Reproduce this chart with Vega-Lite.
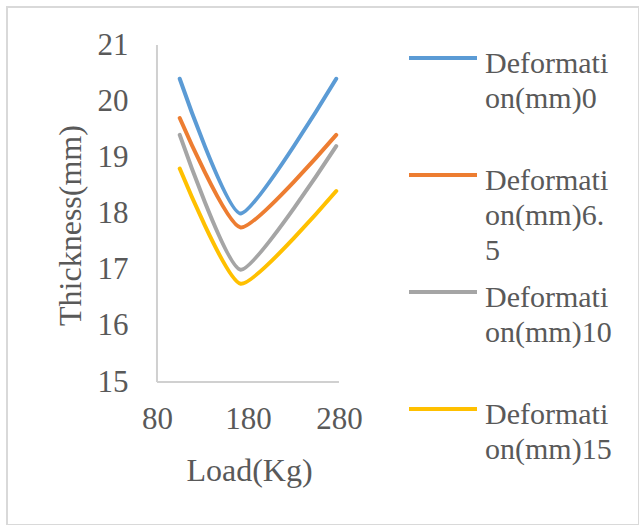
{
  "$schema": "https://vega.github.io/schema/vega-lite/v6.json",
  "autosize": {"type": "none"},
  "padding": {"left": 7, "top": 7, "right": 0, "bottom": 0},
  "width": 632,
  "height": 518,
  "background": "white",
  "config": {
    "view": {"stroke": "#d9d9d9", "strokeWidth": 2},
    "font": "Liberation Serif"
  },
  "layer": [
    {
      "data": {
        "values": [
          {"series": "Deformation(mm)0", "load": 105, "thickness": 20.4},
          {"series": "Deformation(mm)0", "load": 172, "thickness": 18.0},
          {"series": "Deformation(mm)0", "load": 277, "thickness": 20.4},
          {"series": "Deformation(mm)6.5", "load": 105, "thickness": 19.7},
          {"series": "Deformation(mm)6.5", "load": 172, "thickness": 17.75},
          {"series": "Deformation(mm)6.5", "load": 277, "thickness": 19.4},
          {"series": "Deformation(mm)10", "load": 105, "thickness": 19.4},
          {"series": "Deformation(mm)10", "load": 172, "thickness": 17.0},
          {"series": "Deformation(mm)10", "load": 277, "thickness": 19.2},
          {"series": "Deformation(mm)15", "load": 105, "thickness": 18.8},
          {"series": "Deformation(mm)15", "load": 172, "thickness": 16.75},
          {"series": "Deformation(mm)15", "load": 277, "thickness": 18.4}
        ]
      },
      "mark": {"type": "line", "interpolate": "cardinal", "tension": 0.45, "strokeWidth": 4, "strokeCap": "round", "strokeJoin": "round"},
      "encoding": {
        "x": {
          "field": "load", "type": "quantitative",
          "scale": {"domain": [-84.8, 609.7], "nice": false, "zero": false},
          "axis": {
            "values": [80, 180, 280], "domain": false, "ticks": false, "grid": false,
            "offset": -143, "labelPadding": 22, "labelFontSize": 31, "labelColor": "#595959",
            "labelFont": "Liberation Serif", "labelFlush": false, "labelOverlap": false,
            "title": "Load(Kg)", "titleFont": "Liberation Serif", "titleFontSize": 32, "titleFontWeight": "normal",
            "titleColor": "#595959", "titleX": 242, "titleY": 98, "titleBaseline": "alphabetic", "titleAlign": "center"
          }
        },
        "y": {
          "field": "thickness", "type": "quantitative",
          "scale": {"domain": [12.455, 21.677], "nice": false, "zero": false},
          "axis": {
            "values": [15, 16, 17, 18, 19, 20, 21], "domain": false, "ticks": false, "grid": false,
            "offset": -149, "labelPadding": 28, "labelFontSize": 31, "labelColor": "#595959",
            "labelFont": "Liberation Serif", "labelFlush": false, "labelOverlap": false,
            "title": "Thickness(mm)", "titleFont": "Liberation Serif", "titleFontSize": 32, "titleFontWeight": "normal",
            "titleColor": "#595959", "titleAngle": 270, "titleX": -76, "titleY": 218, "titleBaseline": "alphabetic", "titleAlign": "center"
          }
        },
        "color": {
          "field": "series", "type": "nominal",
          "scale": {
            "domain": ["Deformation(mm)0", "Deformation(mm)6.5", "Deformation(mm)10", "Deformation(mm)15"],
            "range": ["#5B9BD5", "#ED7D31", "#A5A5A5", "#FFC000"]
          },
          "legend": {
            "orient": "none", "legendX": 400, "legendY": 39, "title": null,
            "symbolType": "stroke", "symbolSize": 4624, "symbolStrokeWidth": 4,
            "labelFontSize": 30, "labelFont": "Liberation Serif", "labelColor": "#595959",
            "labelOffset": 6, "labelBaseline": "top", "labelLimit": 0, "rowPadding": 12, "padding": 0,
            "clipHeight": 105,
            "labelExpr": "[slice(datum.label, 0, 9), slice(datum.label, 9, 17), slice(datum.label, 17)]",
            "encode": {
              "labels": {"update": {"lineHeight": {"value": 35}, "y": {"value": 12}, "dy": {"value": -9}}},
              "symbols": {"update": {"y": {"value": 12}}}
            }
          }
        }
      }
    },
    {
      "data": {"values": [{"a": 1}]},
      "mark": {"type": "rule", "color": "#d0d0d0", "strokeWidth": 2},
      "encoding": {
        "x": {"datum": 80, "type": "quantitative"},
        "x2": {"datum": 280},
        "y": {"datum": 15, "type": "quantitative"}
      }
    },
    {
      "data": {"values": [{"a": 1}]},
      "mark": {"type": "rule", "color": "#d0d0d0", "strokeWidth": 2},
      "encoding": {
        "x": {"datum": 80, "type": "quantitative"},
        "y": {"datum": 15, "type": "quantitative"},
        "y2": {"datum": 21}
      }
    }
  ]
}
